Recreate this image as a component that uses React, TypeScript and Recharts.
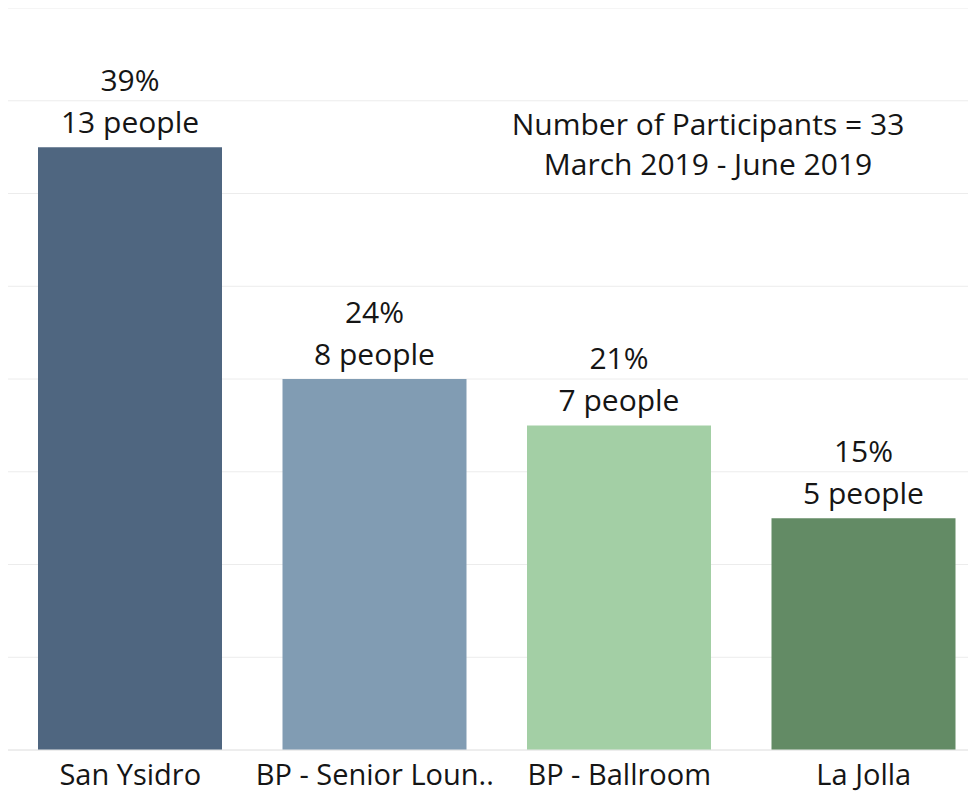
import React from "react";
import { BarChart, Bar, XAxis, YAxis, CartesianGrid, Cell, LabelList } from "recharts";

const categories = ["San Ysidro", "BP - Senior Loun..", "BP - Ballroom", "La Jolla"];
const people = [13, 8, 7, 5];
const percents = ["39%", "24%", "21%", "15%"];
const colors = ["#4f6680", "#819cb3", "#a3cfa5", "#638b65"];
const yTicks = [0, 2, 4, 6, 8, 10, 12, 14, 16];
const noteLines = ["Number of Participants = 33", "March 2019 - June 2019"];

const data = categories.map((c, i) => ({ name: c, value: people[i], pct: percents[i] }));

const FONT = "'Open Sans', sans-serif";
const TEXT = "#151515";

const renderLabel = (props: any) => {
  const { x, y, width, index } = props;
  const cx = x + width / 2;
  return (
    <g>
      <text x={cx} y={y - 56} textAnchor="middle" fill={TEXT} fontSize={30} fontFamily={FONT}>
        {percents[index]}
      </text>
      <text x={cx} y={y - 14} textAnchor="middle" fill={TEXT} fontSize={30} fontFamily={FONT}>
        {people[index]} people
      </text>
    </g>
  );
};

const EmptyTick = () => <g />;

export default function App() {
  return (
    <div style={{ margin: "-8px 0 0 -8px", width: 976, height: 794, overflow: "hidden", position: "relative", background: "#fff" }}>
      <BarChart
        width={986}
        height={794}
        data={data}
        margin={{ top: 8, right: 0, left: 8, bottom: 0 }}
        barSize={184}
      >
        <CartesianGrid vertical={false} stroke="#ececec" />
        <YAxis
          domain={[0, 16]}
          ticks={yTicks}
          width={0}
          tick={EmptyTick}
          tickLine={false}
          axisLine={{ stroke: "#e2e2e2" }}
        />
        <XAxis
          dataKey="name"
          height={44}
          tickLine={false}
          axisLine={{ stroke: "#e6e6e6" }}
          interval={0}
          tick={{ fill: TEXT, fontSize: 29, fontFamily: FONT }}
          tickMargin={8}
        />
        <Bar dataKey="value" isAnimationActive={false}>
          {data.map((d, i) => (
            <Cell key={d.name} fill={colors[i]} />
          ))}
          <LabelList dataKey="value" content={renderLabel} />
        </Bar>
      </BarChart>
      <div
        style={{
          position: "absolute",
          left: 458,
          top: 104,
          width: 500,
          textAlign: "center",
          fontFamily: FONT,
          fontSize: 30,
          lineHeight: "40px",
          color: TEXT,
        }}
      >
        {noteLines.map((l) => (
          <div key={l}>{l}</div>
        ))}
      </div>
    </div>
  );
}
